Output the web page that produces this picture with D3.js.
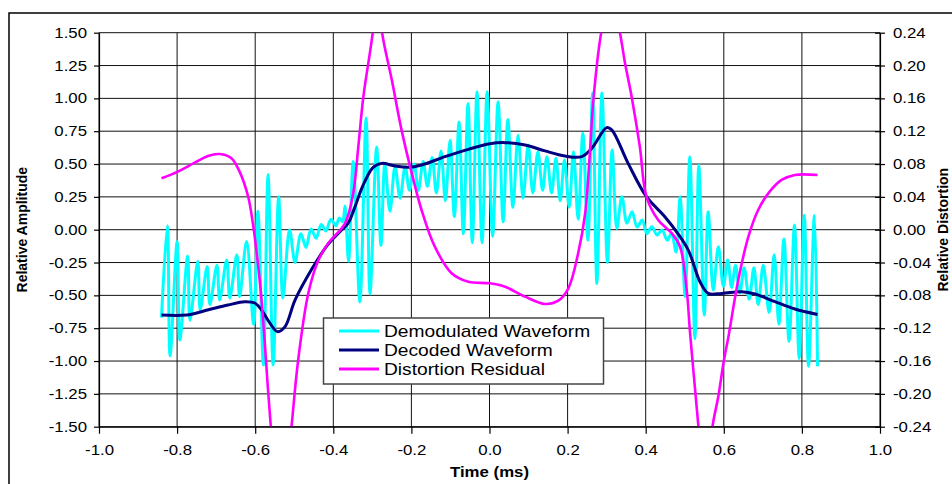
<!DOCTYPE html>
<html>
<head>
<meta charset="utf-8">
<script src="https://cdn.jsdelivr.net/npm/d3@7"></script>
<style>
  body { margin: 0; background: #fff; }
  svg { display: block; font-family: "Liberation Sans", Arial, sans-serif; }
</style>
</head>
<body>
<script>
// time axis (ms) and tick values
const xTicks = [-1.0, -0.8, -0.6, -0.4, -0.2, 0.0, 0.2, 0.4, 0.6, 0.8, 1.0]
const yTicks = [-1.5, -1.25, -1.0, -0.75, -0.5, -0.25, 0, 0.25, 0.5, 0.75, 1.0, 1.25, 1.5]
const y2Ticks = [-0.24, -0.20, -0.16, -0.12, -0.08, -0.04, 0, 0.04, 0.08, 0.12, 0.16, 0.20, 0.24]

// Demodulated Waveform (peaks / troughs)
const demodT = [-0.840,-0.825,-0.818,-0.800,-0.793,-0.773,-0.767,-0.747,-0.741,-0.723,
  -0.716,-0.698,-0.691,-0.673,-0.665,-0.647,-0.640,-0.622,-0.604,-0.593,
  -0.579,-0.567,-0.554,-0.540,-0.529,-0.512,-0.498,-0.483,-0.470,-0.457,
  -0.444,-0.431,-0.419,-0.406,-0.393,-0.385,-0.376,-0.370,-0.361,-0.349,
  -0.332,-0.316,-0.306,-0.289,-0.278,-0.268,-0.255,-0.242,-0.229,-0.216,
  -0.205,-0.193,-0.182,-0.170,-0.159,-0.147,-0.136,-0.124,-0.113,-0.101,
  -0.090,-0.078,-0.067,-0.055,-0.044,-0.032,-0.019,-0.006,0.008,0.022,
  0.035,0.047,0.060,0.073,0.086,0.099,0.111,0.124,0.136,0.147,
  0.159,0.170,0.181,0.192,0.204,0.215,0.227,0.239,0.252,0.264,
  0.275,0.288,0.302,0.314,0.326,0.339,0.352,0.365,0.378,0.391,
  0.403,0.416,0.429,0.442,0.455,0.466,0.478,0.488,0.501,0.513,
  0.526,0.536,0.550,0.560,0.573,0.586,0.599,0.610,0.620,0.630,
  0.641,0.652,0.665,0.677,0.688,0.701,0.716,0.729,0.741,0.754,
  0.767,0.781,0.793,0.806,0.817,0.832,0.840]
const demodV = [-0.67,0.03,-0.96,-0.09,-0.84,-0.20,-0.69,-0.24,-0.61,-0.28,
  -0.57,-0.27,-0.535,-0.23,-0.52,-0.19,-0.51,-0.09,-0.72,0.14,
  -1.03,0.42,-1.03,0.25,-0.52,0.00,-0.25,-0.03,-0.135,0.005,
  -0.065,0.04,-0.01,0.08,0.03,0.09,0.06,0.18,-0.24,0.52,
  -0.55,0.85,-0.49,0.63,-0.12,0.50,0.14,0.48,0.24,0.48,
  0.30,0.50,0.30,0.52,0.33,0.55,0.28,0.60,0.22,0.68,
  0.10,0.82,-0.03,0.96,-0.10,1.05,-0.10,1.05,-0.05,0.975,
  0.06,0.84,0.17,0.72,0.24,0.645,0.28,0.594,0.30,0.556,
  0.28,0.544,0.22,0.531,0.17,0.594,0.08,0.734,-0.08,1.04,
  -0.41,1.04,-0.25,0.607,0.01,0.25,0.05,0.137,0.02,0.074,
  -0.03,0.023,-0.04,-0.002,-0.08,-0.027,-0.17,0.25,-0.51,0.556,
  -0.83,0.493,-0.65,0.137,-0.46,-0.129,-0.43,-0.23,-0.44,-0.27,
  -0.48,-0.29,-0.53,-0.29,-0.57,-0.27,-0.63,-0.19,-0.72,-0.07,
  -0.85,0.036,-0.98,0.11,-1.04,0.11,-1.04]

// Decoded Waveform
const decodedT = [-0.840,-0.776,-0.720,-0.670,-0.627,-0.600,-0.584,-0.567,-0.543,-0.524,
  -0.498,-0.455,-0.415,-0.378,-0.362,-0.345,-0.325,-0.298,-0.276,-0.242,
  -0.208,-0.174,-0.114,-0.054,0.001,0.040,0.091,0.142,0.193,0.236,
  0.262,0.300,0.313,0.355,0.402,0.449,0.480,0.509,0.539,0.560,
  0.595,0.646,0.680,0.731,0.782,0.840]
const decodedV = [-0.65,-0.65,-0.61,-0.574,-0.548,-0.56,-0.61,-0.69,-0.776,-0.74,
  -0.536,-0.30,-0.117,0.0,0.05,0.17,0.33,0.475,0.505,0.485,
  0.475,0.493,0.556,0.612,0.655,0.663,0.645,0.60,0.561,0.556,
  0.62,0.777,0.76,0.505,0.251,0.099,-0.02,-0.155,-0.396,-0.485,
  -0.485,-0.472,-0.49,-0.548,-0.604,-0.645]

// Distortion Residual (secondary axis)
const residT = [-0.840,-0.798,-0.755,-0.721,-0.691,-0.661,-0.640,-0.618,-0.606,-0.597,
  -0.586,-0.576,-0.569,-0.560,-0.535,-0.507,-0.490,-0.464,-0.438,-0.413,
  -0.370,-0.349,-0.336,-0.323,-0.299,-0.287,-0.275,-0.250,-0.225,-0.199,
  -0.174,-0.140,-0.097,-0.054,0.001,0.040,0.091,0.142,0.176,0.202,
  0.227,0.245,0.257,0.266,0.286,0.310,0.334,0.347,0.364,0.385,
  0.402,0.432,0.467,0.488,0.505,0.513,0.522,0.535,0.553,0.571,
  0.586,0.600,0.612,0.637,0.663,0.688,0.714,0.748,0.782,0.840]
const residV = [0.0626,0.0707,0.0816,0.0898,0.0922,0.087,0.0707,0.0402,0.0078,-0.0248,
  -0.0735,-0.134,-0.183,-0.24,-0.38,-0.24,-0.159,-0.0775,-0.037,-0.0166,
  0.0078,0.0443,0.101,0.162,0.24,0.30,0.24,0.182,0.121,0.0687,
  0.024,-0.0207,-0.053,-0.0634,-0.0653,-0.0695,-0.0816,-0.0905,-0.0865,-0.0714,
  -0.0288,0.02,0.0931,0.158,0.24,0.29,0.24,0.203,0.162,0.101,
  0.04,0.0118,-0.0044,-0.0207,-0.0735,-0.122,-0.171,-0.24,-0.33,-0.24,
  -0.203,-0.16,-0.13,-0.0613,-0.0085,0.024,0.0443,0.0606,0.0667,0.0667]

const seriesNames = ['Demodulated Waveform', 'Decoded Waveform', 'Distortion Residual']
const seriesColors = ['#00ffff', '#000080', '#ff00ff']

const width = 952
const height = 484
const plot = { left: 99, right: 880, top: 32.7, bottom: 426.7 }
const stretch = 1.2 // the original text is drawn a bit wide

const x = d3.scaleLinear().domain([-1, 1]).range([plot.left, plot.right])
const y = d3.scaleLinear().domain([-1.5, 1.5]).range([plot.bottom, plot.top])
const y2 = d3.scaleLinear().domain([-0.24, 0.24]).range([plot.bottom, plot.top])

const svg = d3.select('body').append('svg')
  .attr('width', width)
  .attr('height', height)

svg.append('defs').append('clipPath')
  .attr('id', 'plotClip')
  .append('rect')
  .attr('x', plot.left)
  .attr('y', plot.top)
  .attr('width', plot.right - plot.left)
  .attr('height', plot.bottom - plot.top)

// gridlines
const grid = svg.append('g').attr('class', 'grid')
  .attr('stroke', '#111')
  .attr('stroke-width', 1)

grid.selectAll('.h').data(yTicks).join('line')
  .attr('class', 'h')
  .attr('x1', plot.left).attr('x2', plot.right)
  .attr('y1', d => y(d)).attr('y2', d => y(d))

grid.selectAll('.v').data(xTicks).join('line')
  .attr('class', 'v')
  .attr('x1', d => x(d)).attr('x2', d => x(d))
  .attr('y1', plot.top).attr('y2', plot.bottom)

// series
const lines = svg.append('g').attr('clip-path', 'url(#plotClip)')

const demod = demodT.map((t, i) => [t, demodV[i]])
const decoded = decodedT.map((t, i) => [t, decodedV[i]])
const resid = residT.map((t, i) => [t, residV[i]])

lines.append('path')
  .datum(demod)
  .attr('fill', 'none')
  .attr('stroke', seriesColors[0])
  .attr('stroke-width', 3)
  .attr('stroke-linejoin', 'round')
  .attr('d', d3.line().x(d => x(d[0])).y(d => y(d[1])).curve(d3.curveCatmullRom.alpha(0.5)))

lines.append('path')
  .datum(decoded)
  .attr('fill', 'none')
  .attr('stroke', seriesColors[1])
  .attr('stroke-width', 3)
  .attr('stroke-linejoin', 'round')
  .attr('d', d3.line().x(d => x(d[0])).y(d => y(d[1])).curve(d3.curveCatmullRom.alpha(0.5)))

lines.append('path')
  .datum(resid)
  .attr('fill', 'none')
  .attr('stroke', seriesColors[2])
  .attr('stroke-width', 2.6)
  .attr('stroke-linejoin', 'round')
  .attr('d', d3.line().x(d => x(d[0])).y(d => y2(d[1])).curve(d3.curveCatmullRom.alpha(0.5)))

// axes
const leftAxis = svg.append('g')
  .attr('transform', `translate(${plot.left},0)`)
  .call(d3.axisLeft(y).tickValues(yTicks).tickSize(5).tickSizeOuter(0)
    .tickFormat(d => d.toFixed(2)))

const rightAxis = svg.append('g')
  .attr('transform', `translate(${plot.right},0)`)
  .call(d3.axisRight(y2).tickValues(y2Ticks).tickSize(5).tickSizeOuter(0)
    .tickFormat(d => d.toFixed(2)))

const bottomAxis = svg.append('g')
  .attr('transform', `translate(0,${plot.bottom})`)
  .call(d3.axisBottom(x).tickValues(xTicks).tickSize(7).tickSizeOuter(0)
    .tickFormat(d => d.toFixed(1)))

for (const ax of [leftAxis, rightAxis, bottomAxis]) {
  ax.select('.domain').attr('stroke', '#000').attr('stroke-width', 1.2)
  ax.selectAll('.tick line').attr('stroke', '#000').attr('stroke-width', 1.2)
  ax.selectAll('text')
    .attr('fill', '#000')
    .style('font-size', '14px')
    .style('font-family', '"Liberation Sans", Arial, sans-serif')
}

leftAxis.selectAll('text')
  .attr('x', -12 / stretch)
  .attr('transform', `scale(${stretch},1)`)

rightAxis.selectAll('.tick line').attr('x1', -5).attr('x2', 5)
rightAxis.selectAll('text')
  .attr('x', 13 / stretch)
  .attr('transform', `scale(${stretch},1)`)

bottomAxis.selectAll('text')
  .attr('y', 28).attr('dy', 0)
  .attr('transform', `scale(${stretch},1)`)

// axis titles
svg.append('text')
  .attr('transform', `translate(${(plot.left + plot.right) / 2},477) scale(${stretch},1)`)
  .attr('text-anchor', 'middle')
  .style('font-size', '14px')
  .style('font-weight', 'bold')
  .text('Time (ms)')

svg.append('text')
  .attr('transform', `translate(27,${(plot.top + plot.bottom) / 2}) rotate(-90)`)
  .attr('text-anchor', 'middle')
  .style('font-size', '14px')
  .style('font-weight', 'bold')
  .text('Relative Amplitude')

svg.append('text')
  .attr('transform', `translate(948,${(plot.top + plot.bottom) / 2}) rotate(-90)`)
  .attr('text-anchor', 'middle')
  .style('font-size', '14px')
  .style('font-weight', 'bold')
  .text('Relative Distortion')

// legend
const legend = svg.append('g').attr('class', 'legend')

legend.append('rect')
  .attr('x', 323.5).attr('y', 318)
  .attr('width', 280).attr('height', 66)
  .attr('fill', '#fff')
  .attr('stroke', '#444')
  .attr('stroke-width', 1.5)

const entry = legend.selectAll('.entry').data(seriesNames).join('g')
  .attr('class', 'entry')
  .attr('transform', (d, i) => `translate(339,${331 + i * 19})`)

entry.append('line')
  .attr('x1', 0).attr('x2', 40)
  .attr('stroke', (d, i) => seriesColors[i])
  .attr('stroke-width', 3)

entry.append('text')
  .attr('transform', `translate(45,0) scale(${stretch},1)`)
  .attr('dy', '0.36em')
  .style('font-size', '16px')
  .text(d => d)

// chart border
svg.append('rect')
  .attr('x', 9).attr('y', 13)
  .attr('width', 960).attr('height', 490)
  .attr('fill', 'none')
  .attr('stroke', '#000')
  .attr('stroke-width', 1.5)
</script>
</body>
</html>
